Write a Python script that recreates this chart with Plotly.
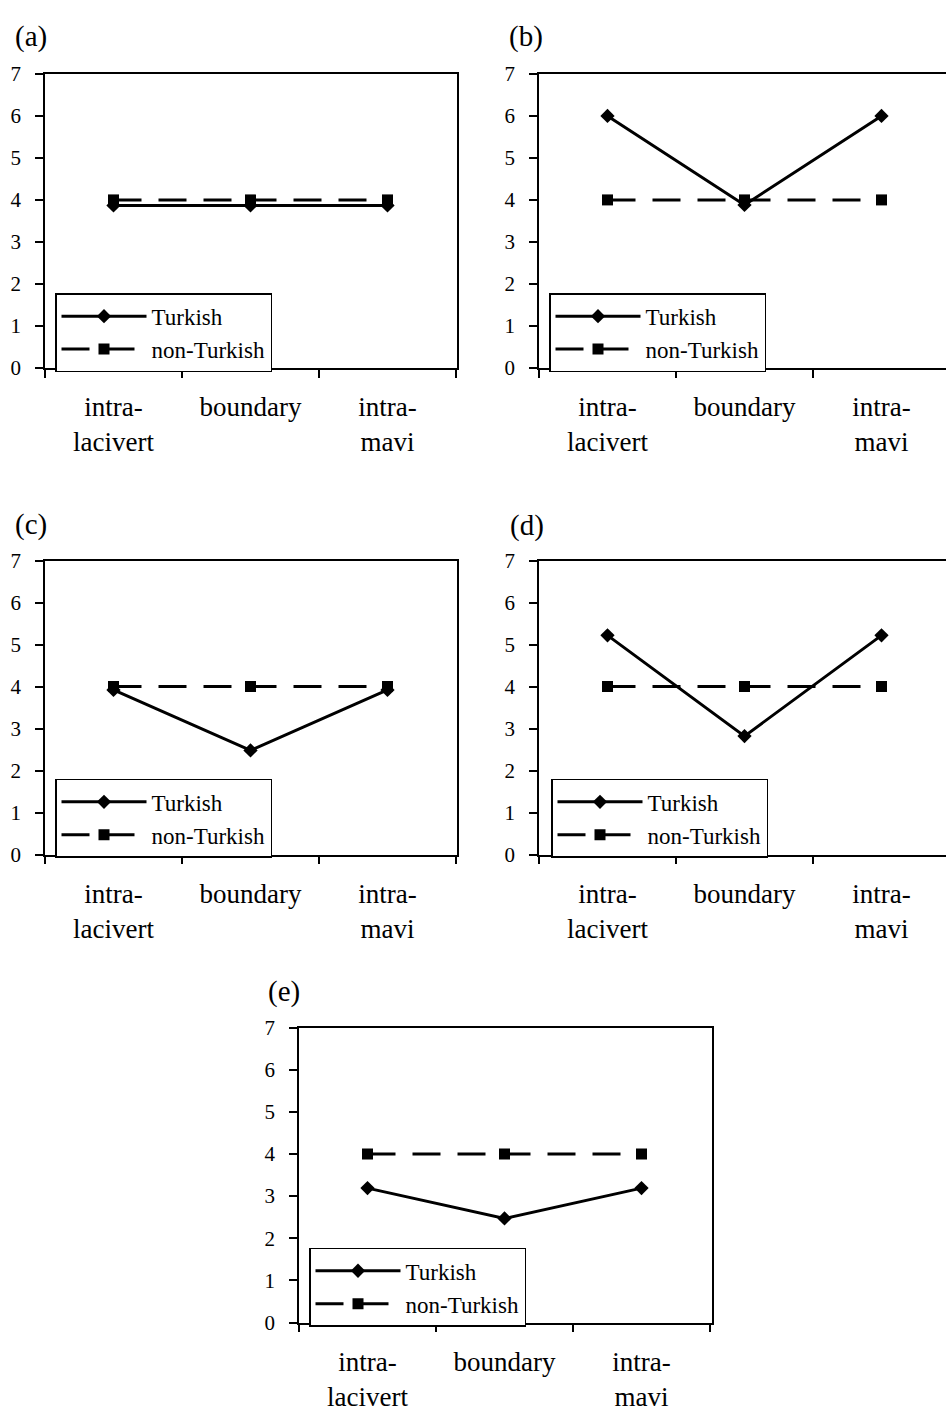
import plotly.graph_objects as go

# ---- data ----
categories = ["intra-<br>lacivert", "boundary", "intra-<br>mavi"]
y_ticks = [0, 1, 2, 3, 4, 5, 6, 7]
panel_labels = ["(a)", "(b)", "(c)", "(d)", "(e)"]
turkish_a = [3.87, 3.87, 3.87]
turkish_b = [6.0, 3.88, 6.0]
turkish_c = [3.92, 2.48, 3.92]
turkish_d = [5.22, 2.82, 5.22]
turkish_e = [3.19, 2.47, 3.19]
non_turkish_a = [4.0, 4.0, 4.0]
non_turkish_b = [4.0, 4.0, 4.0]
non_turkish_c = [4.0, 4.0, 4.0]
non_turkish_d = [4.0, 4.0, 4.0]
non_turkish_e = [4.0, 4.0, 4.0]

turkish = [turkish_a, turkish_b, turkish_c, turkish_d, turkish_e]
non_turkish = [non_turkish_a, non_turkish_b, non_turkish_c, non_turkish_d, non_turkish_e]

# ---- layout (pixel geometry) ----
W, H = 946, 1423
FONT = "Liberation Serif, Times New Roman, serif"
# (left, right, top, bottom) of each plot area in pixels
boxes = [
    (45, 457, 63, 362),
    (539, 946, 63, 362),
    (45, 457, 558, 857),
    (539, 946, 558, 857),
    (299, 712, 1033, 1333),
]
band = 137.0  # px per category
label_pos = [(13, 25), (507, 25), (13, 521), (508, 522), (266, 996)]
legend_pos = [(55, 286), (549, 286), (55, 780), (551, 780), (309, 1257)]

fig = go.Figure()
layout = dict(
    width=W, height=H, margin=dict(l=0, r=0, t=0, b=0),
    paper_bgcolor="white", plot_bgcolor="white",
    font=dict(family=FONT, color="black"),
    showlegend=True, annotations=[],
)

for i in range(5):
    sfx = "" if i == 0 else str(i + 1)
    xa, ya = "x" + sfx, "y" + sfx
    leg = "legend" + sfx
    fig.add_trace(go.Scatter(
        x=categories, y=turkish[i], name="Turkish", mode="lines+markers",
        line=dict(color="black", width=3), marker=dict(symbol="diamond", size=11, color="black"),
        xaxis=xa, yaxis=ya, legend=leg, legendgroup="t%d" % i))
    fig.add_trace(go.Scatter(
        x=categories, y=non_turkish[i], name="non-Turkish", mode="lines+markers",
        line=dict(color="black", width=3, dash="28px,17px"), marker=dict(symbol="square", size=11, color="black"),
        xaxis=xa, yaxis=ya, legend=leg, legendgroup="n%d" % i))

    l, r, t, b = boxes[i]
    cut = i in (1, 3)
    xr = [-0.5, -0.5 + (r - l) / band]
    layout["xaxis" + sfx] = dict(
        domain=[l / W, r / W], anchor=ya, type="category", range=xr,
        showline=True, linecolor="black", linewidth=1.5, mirror=True,
        ticks="outside", ticklen=8, tickwidth=1.5, tickcolor="black", tickson="boundaries",
        showgrid=False, zeroline=False, fixedrange=True,
        tickfont=dict(family=FONT, size=27, color="black"), ticklabelstandoff=14,
    )
    layout["yaxis" + sfx] = dict(
        domain=[1 - b / H, 1 - t / H], anchor=xa, range=[0, 7],
        tickvals=y_ticks, ticktext=[str(v) for v in y_ticks],
        showline=True, linecolor="black", linewidth=1.5, mirror=(not cut),
        ticks="outside", ticklen=8, tickwidth=1.5, tickcolor="black",
        showgrid=False, zeroline=False, fixedrange=True,
        tickfont=dict(family=FONT, size=21, color="black"), ticklabelstandoff=10,
    )
    lx, ly = legend_pos[i]
    layout[leg] = dict(
        x=lx / W, y=1 - ly / H, xanchor="left", yanchor="top",
        xref="paper", yref="paper",
        bgcolor="white", bordercolor="black", borderwidth=1.5,
        font=dict(family=FONT, size=23, color="black"),
        traceorder="grouped", tracegroupgap=0, itemwidth=85,
    )
    px, py = label_pos[i]
    layout["annotations"].append(dict(
        text=panel_labels[i], x=px / W, y=1 - py / H, xref="paper", yref="paper",
        xanchor="left", yanchor="middle", showarrow=False,
        font=dict(family=FONT, size=29, color="black")))

fig.update_layout(**layout)
fig.write_html("out.html")
